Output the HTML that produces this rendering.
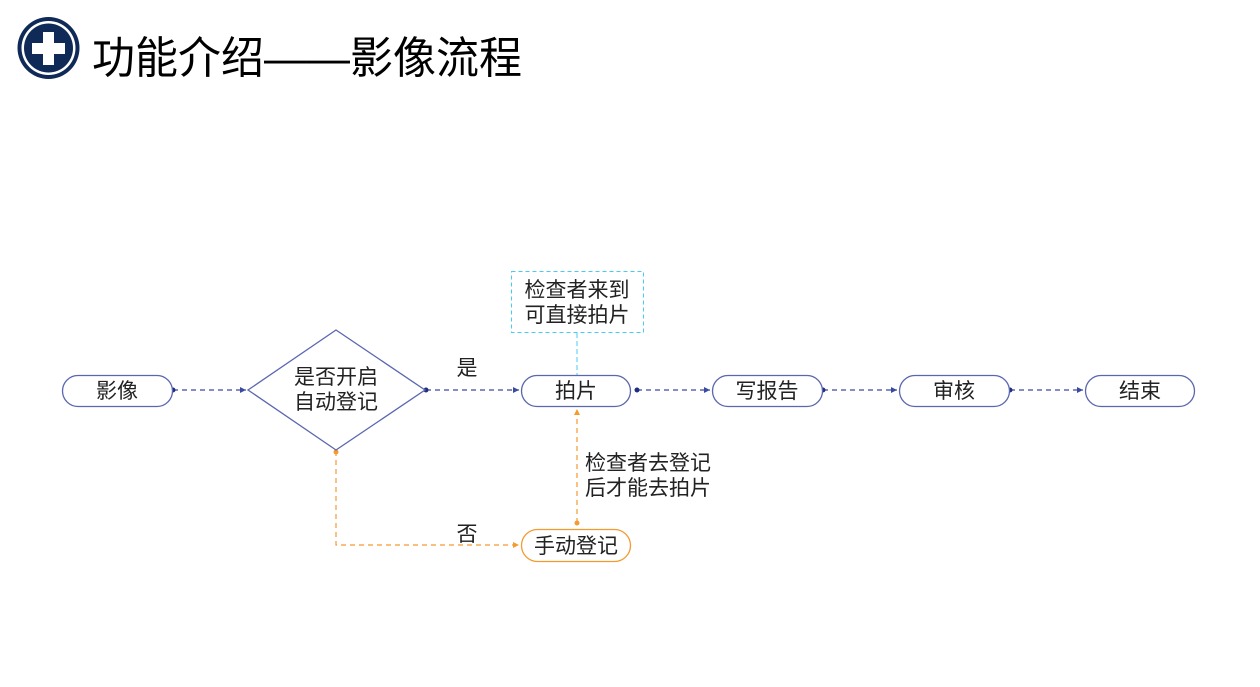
<!DOCTYPE html>
<html><head><meta charset="utf-8"><style>
html,body{margin:0;padding:0;background:#fff;width:1260px;height:687px;overflow:hidden}
svg text{font-family:"Liberation Sans","Noto Sans CJK SC",sans-serif;fill:#222}
</style></head><body>
<svg width="1260" height="687" viewBox="0 0 1260 687" xmlns="http://www.w3.org/2000/svg">
<defs>
<marker id="ab" markerWidth="6" markerHeight="6" refX="5" refY="3" orient="auto"><path d="M0,0.5 L5,3 L0,5.5 Z" fill="#3a4aa0"/></marker>
<marker id="ao" markerWidth="6" markerHeight="6" refX="5" refY="3" orient="auto"><path d="M0,0.5 L5,3 L0,5.5 Z" fill="#f59a2f"/></marker>
</defs>
<circle cx="48.5" cy="48" r="31" fill="#0f2a57"/>
<circle cx="48.5" cy="48" r="27" fill="#fff"/>
<circle cx="48.5" cy="48" r="24.5" fill="#0f2a57"/>
<rect x="43" y="32" width="11" height="33" fill="#fff"/>
<rect x="32" y="43" width="33" height="11" fill="#fff"/>
<text x="92" y="73" font-size="44" textLength="430" lengthAdjust="spacingAndGlyphs" style="fill:#000">功能介绍——影像流程</text>

<rect x="511.5" y="271.5" width="132" height="61" fill="none" stroke="#4cc9f5" stroke-dasharray="4,3"/>
<text x="577" y="297" font-size="21" text-anchor="middle">检查者来到</text>
<text x="577" y="322" font-size="21" text-anchor="middle">可直接拍片</text>
<line x1="577" y1="333" x2="577" y2="375" stroke="#4cc9f5" stroke-dasharray="5,3"/>

<g stroke="#3a4aa0" stroke-width="1.2" stroke-dasharray="5,4" fill="none">
<line x1="173" y1="390" x2="246" y2="390" marker-end="url(#ab)"/>
<line x1="426" y1="390" x2="519" y2="390" marker-end="url(#ab)"/>
<line x1="637" y1="390" x2="710" y2="390" marker-end="url(#ab)"/>
<line x1="823" y1="390" x2="897" y2="390" marker-end="url(#ab)"/>
<line x1="1010" y1="390" x2="1083" y2="390" marker-end="url(#ab)"/>
</g>
<g fill="#1f2f80">
<circle cx="173" cy="390" r="2.5"/><circle cx="426" cy="390" r="2.5"/><circle cx="637" cy="390" r="2.5"/>
<circle cx="823" cy="390" r="2.5"/><circle cx="1010" cy="390" r="2.5"/>
</g>

<g stroke="#f59a2f" stroke-width="1.2" stroke-dasharray="5,4" fill="none">
<polyline points="336,451 336,545 519,545" marker-end="url(#ao)"/>
<line x1="577" y1="523" x2="577" y2="409" marker-end="url(#ao)"/>
</g>
<circle cx="336" cy="452" r="2.5" fill="#f59a2f"/>
<circle cx="577" cy="523" r="2.5" fill="#f59a2f"/>

<g fill="#fff" stroke="#5a66b0" stroke-width="1.3">
<rect x="62.5" y="375.5" width="110" height="31" rx="15.5"/>
<polygon points="336,330 425,390 336,450 248,390"/>
<rect x="521.5" y="375.5" width="109" height="31" rx="15.5"/>
<rect x="712.5" y="375.5" width="110" height="31" rx="15.5"/>
<rect x="899.5" y="375.5" width="110" height="31" rx="15.5"/>
<rect x="1085.5" y="375.5" width="109" height="31" rx="15.5"/>
</g>
<rect x="521.5" y="529.5" width="109" height="32" rx="16" fill="#fff" stroke="#f59a2f" stroke-width="1.3"/>

<g font-size="21" text-anchor="middle">
<text x="117" y="398">影像</text>
<text x="336" y="384">是否开启</text>
<text x="336" y="409">自动登记</text>
<text x="576" y="398">拍片</text>
<text x="767" y="398">写报告</text>
<text x="954" y="398">审核</text>
<text x="1140" y="398">结束</text>
<text x="576" y="553">手动登记</text>
<text x="467" y="375">是</text>
<text x="467" y="541">否</text>
</g>
<text x="585" y="470" font-size="21">检查者去登记</text>
<text x="585" y="495" font-size="21">后才能去拍片</text>
</svg>
</body></html>
